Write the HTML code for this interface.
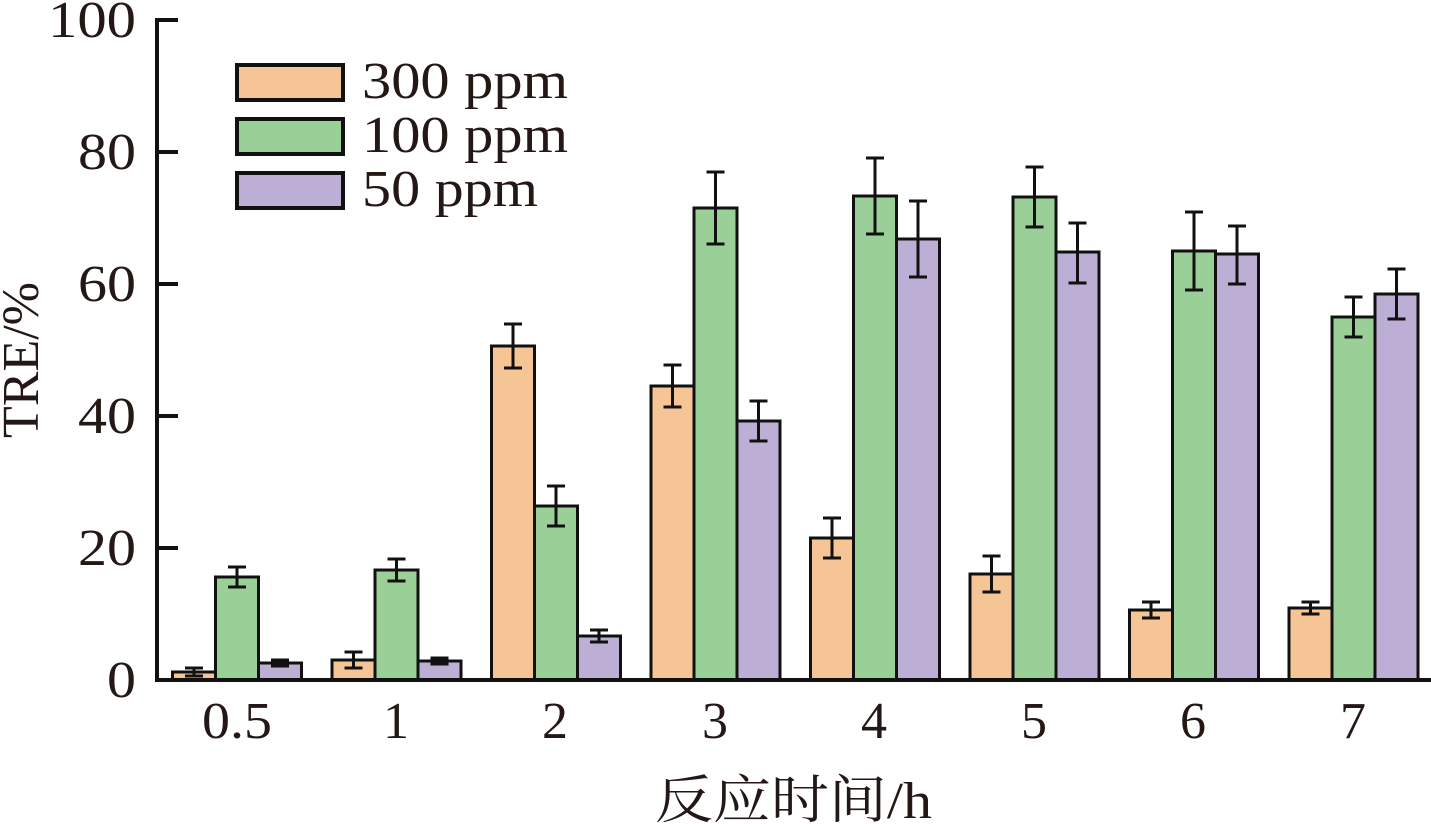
<!DOCTYPE html>
<html><head><meta charset="utf-8"><style>html,body{margin:0;padding:0;background:#fff}svg{display:block}</style></head>
<body>
<svg width="1431" height="824" xmlns="http://www.w3.org/2000/svg" font-family="Liberation Serif, Noto Serif CJK SC, serif" fill="#231815">
<g stroke="#111" stroke-width="3">
<rect x="172.5" y="672" width="43" height="8" fill="#f6c595"/><rect x="215.5" y="577" width="43" height="103" fill="#9acf97"/><rect x="258.5" y="663" width="43" height="17" fill="#bcaed4"/>
<rect x="332" y="660" width="43" height="20" fill="#f6c595"/><rect x="375" y="570" width="43" height="110" fill="#9acf97"/><rect x="418" y="661" width="43" height="19" fill="#bcaed4"/>
<rect x="491.5" y="346" width="43" height="334" fill="#f6c595"/><rect x="534.5" y="506" width="43" height="174" fill="#9acf97"/><rect x="577.5" y="636" width="43" height="44" fill="#bcaed4"/>
<rect x="651" y="386" width="43" height="294" fill="#f6c595"/><rect x="694" y="208" width="43" height="472" fill="#9acf97"/><rect x="737" y="421" width="43" height="259" fill="#bcaed4"/>
<rect x="810.5" y="538" width="43" height="142" fill="#f6c595"/><rect x="853.5" y="196" width="43" height="484" fill="#9acf97"/><rect x="896.5" y="239" width="43" height="441" fill="#bcaed4"/>
<rect x="970" y="574" width="43" height="106" fill="#f6c595"/><rect x="1013" y="197" width="43" height="483" fill="#9acf97"/><rect x="1056" y="252" width="43" height="428" fill="#bcaed4"/>
<rect x="1129.5" y="610" width="43" height="70" fill="#f6c595"/><rect x="1172.5" y="251" width="43" height="429" fill="#9acf97"/><rect x="1215.5" y="254" width="43" height="426" fill="#bcaed4"/>
<rect x="1289" y="608" width="43" height="72" fill="#f6c595"/><rect x="1332" y="317" width="43" height="363" fill="#9acf97"/><rect x="1375" y="294" width="43" height="386" fill="#bcaed4"/>
</g>
<g stroke="#111" stroke-width="3" fill="none">
<path d="M194 668V676M185 668H203M185 676H203"/>
<path d="M237 567V587M228 567H246M228 587H246"/>
<path d="M280 660V666M271 660H289M271 666H289"/>
<path d="M353.5 652V668M344.5 652H362.5M344.5 668H362.5"/>
<path d="M396.5 559V581M387.5 559H405.5M387.5 581H405.5"/>
<path d="M439.5 658V664M430.5 658H448.5M430.5 664H448.5"/>
<path d="M513 324V368M504 324H522M504 368H522"/>
<path d="M556 486V526M547 486H565M547 526H565"/>
<path d="M599 630V642M590 630H608M590 642H608"/>
<path d="M672.5 365V407M663.5 365H681.5M663.5 407H681.5"/>
<path d="M715.5 172V244M706.5 172H724.5M706.5 244H724.5"/>
<path d="M758.5 401V441M749.5 401H767.5M749.5 441H767.5"/>
<path d="M832 518V558M823 518H841M823 558H841"/>
<path d="M875 158V234M866 158H884M866 234H884"/>
<path d="M918 201V277M909 201H927M909 277H927"/>
<path d="M991.5 556V592M982.5 556H1000.5M982.5 592H1000.5"/>
<path d="M1034.5 167V227M1025.5 167H1043.5M1025.5 227H1043.5"/>
<path d="M1077.5 223V283M1068.5 223H1086.5M1068.5 283H1086.5"/>
<path d="M1151 602V618M1142 602H1160M1142 618H1160"/>
<path d="M1194 212V290M1185 212H1203M1185 290H1203"/>
<path d="M1237 226V284M1228 226H1246M1228 284H1246"/>
<path d="M1310.5 602V614M1301.5 602H1319.5M1301.5 614H1319.5"/>
<path d="M1353.5 297V337M1344.5 297H1362.5M1344.5 337H1362.5"/>
<path d="M1396.5 269V319M1387.5 269H1405.5M1387.5 319H1405.5"/>
</g>
<line x1="157" y1="18" x2="157" y2="681" stroke="#111" stroke-width="4"/>
<line x1="155" y1="680" x2="1431" y2="680" stroke="#111" stroke-width="4"/>
<g stroke="#111" stroke-width="4">
<line x1="157" y1="20" x2="178" y2="20"/><line x1="157" y1="152" x2="178" y2="152"/>
<line x1="157" y1="284" x2="178" y2="284"/><line x1="157" y1="416" x2="178" y2="416"/>
<line x1="157" y1="548" x2="178" y2="548"/>
</g>
<g font-size="52" text-anchor="end" lengthAdjust="spacingAndGlyphs">
<text x="136" y="37" textLength="88" lengthAdjust="spacingAndGlyphs">100</text>
<text x="136" y="169" textLength="58" lengthAdjust="spacingAndGlyphs">80</text>
<text x="136" y="301" textLength="58" lengthAdjust="spacingAndGlyphs">60</text>
<text x="136" y="433" textLength="58" lengthAdjust="spacingAndGlyphs">40</text>
<text x="136" y="565" textLength="58" lengthAdjust="spacingAndGlyphs">20</text>
<text x="136" y="697" textLength="29" lengthAdjust="spacingAndGlyphs">0</text>
</g>
<g font-size="52" text-anchor="middle">
<text x="237" y="738" textLength="70" lengthAdjust="spacingAndGlyphs">0.5</text><text x="396" y="738">1</text><text x="555" y="738">2</text>
<text x="715" y="738">3</text><text x="874" y="738">4</text><text x="1034" y="738">5</text>
<text x="1193" y="738">6</text><text x="1353" y="738">7</text>
</g>
<text x="655" y="818" font-size="52" textLength="277" lengthAdjust="spacingAndGlyphs">反应时间/h</text>
<text transform="translate(38,360) rotate(-90)" font-size="52" text-anchor="middle">TRE/%</text>
<g stroke="#111" stroke-width="4">
<rect x="237" y="65" width="106" height="35" fill="#f6c595"/>
<rect x="237" y="119" width="106" height="35" fill="#9acf97"/>
<rect x="237" y="173" width="106" height="35" fill="#bcaed4"/>
</g>
<g font-size="52">
<text x="362" y="98" textLength="206" lengthAdjust="spacingAndGlyphs">300 ppm</text>
<text x="362" y="152" textLength="206" lengthAdjust="spacingAndGlyphs">100 ppm</text>
<text x="362" y="206" textLength="176" lengthAdjust="spacingAndGlyphs">50 ppm</text>
</g>
</svg>
</body></html>
